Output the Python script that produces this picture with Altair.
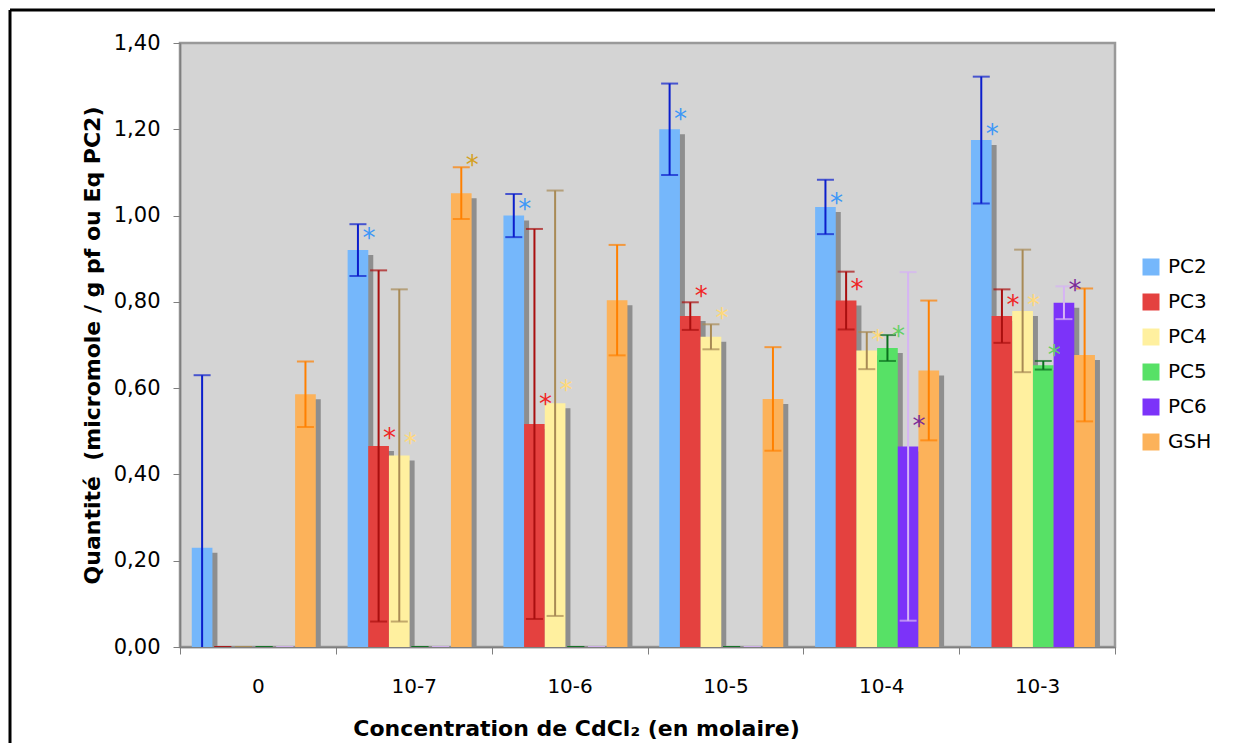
import altair as alt
import pandas as pd

groups = ["0", "10-7", "10-6", "10-5", "10-4", "10-3"]
series = ["PC2", "PC3", "PC4", "PC5", "PC6", "GSH"]

pc2 = [0.23, 0.92, 1.00, 1.20, 1.02, 1.175]
pc3 = [0.0, 0.466, 0.517, 0.767, 0.803, 0.767]
pc4 = [0.0, 0.444, 0.565, 0.719, 0.687, 0.779]
pc5 = [0.0, 0.0, 0.0, 0.0, 0.693, 0.653]
pc6 = [0.0, 0.0, 0.0, 0.0, 0.465, 0.798]
gsh = [0.586, 1.052, 0.804, 0.575, 0.641, 0.677]

pc2_err = [0.40, 0.06, 0.05, 0.106, 0.063, 0.147]
pc3_err = [0.0, 0.407, 0.452, 0.032, 0.067, 0.062]
pc4_err = [0.0, 0.385, 0.493, 0.029, 0.043, 0.142]
pc5_err = [0.0, 0.0, 0.0, 0.0, 0.03, 0.01]
pc6_err = [0.0, 0.0, 0.0, 0.0, 0.404, 0.038]
gsh_err = [0.076, 0.06, 0.128, 0.12, 0.162, 0.154]

# significance asterisks: group, series, height
ast_group = ["10-7", "10-7", "10-7", "10-7",
             "10-6", "10-6", "10-6",
             "10-5", "10-5", "10-5",
             "10-4", "10-4", "10-4", "10-4", "10-4",
             "10-3", "10-3", "10-3", "10-3", "10-3"]
ast_series = ["PC2", "PC3", "PC4", "GSH",
              "PC2", "PC3", "PC4",
              "PC2", "PC3", "PC4",
              "PC2", "PC3", "PC4", "PC5", "PC6",
              "PC2", "PC3", "PC4", "PC5", "PC6"]
ast_y = [0.963, 0.498, 0.486, 1.132,
         1.03, 0.577, 0.609,
         1.237, 0.828, 0.777,
         1.044, 0.844, 0.726, 0.735, 0.527,
         1.202, 0.807, 0.807, 0.69, 0.842]

bar_colors = ["#75B7FB", "#E4413F", "#FFF09F", "#57E166", "#7C33F9", "#FCB25A"]
err_colors = ["#0B1ECC", "#A90F0F", "#A88A55", "#0A6F1E", "#D6B4F4", "#FF8000"]
ast_colors = ["#3D97F7", "#F02525", "#FFD97A", "#63D063", "#7B2A98", "#D4A020"]

vals = dict(zip(series, [pc2, pc3, pc4, pc5, pc6, gsh]))
errs = dict(zip(series, [pc2_err, pc3_err, pc4_err, pc5_err, pc6_err, gsh_err]))

rows = []
for s in series:
    for g, v, e in zip(groups, vals[s], errs[s]):
        rows.append({"group": g, "series": s, "value": v, "lo": v - e, "hi": v + e})
df = pd.DataFrame(rows)
ast_df = pd.DataFrame({"group": ast_group, "series": ast_series, "ay": ast_y})

FONT = "DejaVu Sans"

x_scale = alt.Scale(domain=groups, paddingInner=0, paddingOuter=0)


def off_scale(align):
    return alt.Scale(type="band", domain=series, paddingInner=0, paddingOuter=0.77, align=align)


y_scale = alt.Scale(domain=[0, 1.4], nice=False, zero=True)

x_axis = alt.Axis(
    title="Concentration de CdCl\u2082 (en molaire)",
    labelAngle=0, tickBand="extent", tickSize=7, labelPadding=22,
    labelFont=FONT, labelFontSize=20, labelColor="black",
    titleFont=FONT, titleFontSize=22, titleFontWeight="bold", titleColor="black",
    titleX=396, titleY=71, titleBaseline="top", titleAlign="center", titleAnchor="start",
    domainColor="#7F7F7F", domainWidth=1.5, tickColor="#7F7F7F", grid=False,
)
y_axis = alt.Axis(
    title="Quantit\u00e9\u00a0 (micromole / g pf ou Eq PC2)",
    values=[0, 0.2, 0.4, 0.6, 0.8, 1.0, 1.2, 1.4],
    labelExpr="replace(format(datum.value, '.2f'), '.', ',')",
    tickSize=7, labelPadding=13,
    labelFont=FONT, labelFontSize=21, labelColor="black",
    titleFont=FONT, titleFontSize=22, titleFontWeight="bold", titleColor="black",
    titleX=-88, titleY=302, titleAngle=-90, titleAlign="center", titleBaseline="middle",
    titleAnchor="start",
    domainColor="#7F7F7F", domainWidth=1.5, tickColor="#7F7F7F", grid=False,
)


def xenc():
    return alt.X("group:N", scale=x_scale, axis=x_axis, sort=groups)


def yenc(field):
    return alt.Y(field, type="quantitative", scale=y_scale, axis=y_axis)


def xoff(align=0.37):
    return alt.XOffset("series:N", scale=off_scale(align), sort=series)


shadow = alt.Chart(df[df["value"] > 0]).mark_bar(color="#8E8E8E", yOffset=5, clip=True).encode(
    x=xenc(),
    xOffset=xoff(0.527),
    y=yenc("value"),
)

bars = alt.Chart(df).mark_bar().encode(
    x=xenc(),
    xOffset=xoff(),
    y=yenc("value"),
    color=alt.Color(
        "series:N",
        scale=alt.Scale(domain=series, range=bar_colors),
        legend=alt.Legend(
            title=None, orient="none", legendX=961, legendY=214,
            symbolType="square", symbolSize=289, symbolStrokeWidth=0,
            labelFont=FONT, labelFontSize=20, labelColor="black",
            rowPadding=15, labelOffset=7,
        ),
    ),
)

err_color = alt.Color("series:N", scale=alt.Scale(domain=series, range=err_colors), legend=None)

err_rule = alt.Chart(df).mark_rule(strokeWidth=2, clip=True).encode(
    x=xenc(),
    xOffset=xoff(),
    y=yenc("lo"),
    y2="hi:Q",
    color=err_color,
)
cap_hi = alt.Chart(df).mark_tick(size=17, thickness=2, clip=True).encode(
    x=xenc(),
    xOffset=xoff(),
    y=yenc("hi"),
    color=err_color,
)
cap_lo = alt.Chart(df).mark_tick(size=17, thickness=2, clip=True).encode(
    x=xenc(),
    xOffset=xoff(),
    y=yenc("lo"),
    color=err_color,
)

stars = alt.Chart(ast_df).mark_text(
    font=FONT, fontSize=26, dx=11, dy=15, baseline="alphabetic", align="center"
).encode(
    x=xenc(),
    xOffset=xoff(),
    y=yenc("ay"),
    text=alt.value("*"),
    color=alt.Color("series:N", scale=alt.Scale(domain=series, range=ast_colors), legend=None),
)

frame_data = alt.Data(values=[{"k": 1}])
frame_top = alt.Chart(frame_data).mark_rule(color="black", strokeWidth=3).encode(
    x=alt.value(-170), x2=alt.value(1200), y=alt.value(-33)
)
frame_left = alt.Chart(frame_data).mark_rule(color="black", strokeWidth=3).encode(
    x=alt.value(-170), y=alt.value(-33), y2=alt.value(800)
)

chart = alt.layer(
    shadow, bars, err_rule, cap_hi, cap_lo, stars, frame_top, frame_left
).resolve_scale(
    xOffset="independent", color="independent"
).properties(
    width=935, height=604,
    autosize=alt.AutoSizeParams(type="none"),
    padding={"left": 172, "top": 35, "right": 100, "bottom": 96},
).configure_view(
    fill="#D4D4D4", stroke="#999999", strokeWidth=2.5
)

chart.save("out.html", embed_options={"renderer": "svg", "actions": False})
